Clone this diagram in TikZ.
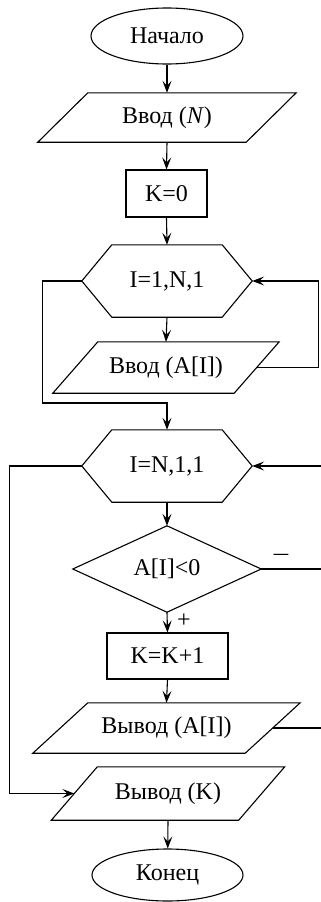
\documentclass[tikz,border=0pt]{standalone}
\usepackage{fontspec}
\setmainfont{Liberation Serif}
\usetikzlibrary{arrows.meta,shapes.geometric}
\tikzset{
  lw/.style={line width=1.1pt},
  arr/.style={lw,-{Stealth[length=12pt,width=9pt,inset=5pt]}},
  blk/.style={draw=none,inner sep=0pt,font=\fontsize{24}{28}\selectfont},
  term/.style={ellipse,draw,lw,inner sep=0pt,font=\fontsize{24}{28}\selectfont},
  lbl/.style={inner sep=0pt,font=\fontsize{24}{28}\selectfont}
}
\newcommand\parashape[2]{\draw[lw] ([xshift=#2/2]#1.north west) -- ([xshift=#2/2]#1.north east) -- ([xshift=-#2/2]#1.south east) -- ([xshift=-#2/2]#1.south west) -- cycle;}
\newcommand\hexshape[2]{\draw[lw] (#1.west) -- ([xshift=#2]#1.north west) -- ([xshift=-#2]#1.north east) -- (#1.east) -- ([xshift=-#2]#1.south east) -- ([xshift=#2]#1.south west) -- cycle;}
\begin{document}
\begin{tikzpicture}[x=1pt,y=-1pt]
\useasboundingbox (0,0) rectangle (321,902);
% nodes
\node[term,minimum width=152pt,minimum height=56pt] (start) at (167,36) {Начало};
\node[blk,minimum width=208pt,minimum height=49pt] (in1) at (167,117.5) {Ввод (\textit{N})};
\node[blk,draw,lw,minimum width=81pt,minimum height=47pt] (k0) at (166.5,193.5) {K=0};
\node[blk,minimum width=170pt,minimum height=72pt] (h1) at (167,281) {I=1,N,1};
\node[blk,minimum width=181pt,minimum height=51pt] (in2) at (166,367.5) {Ввод (A[I])};
\node[blk,minimum width=170pt,minimum height=72pt] (h2) at (167,466) {I=N,1,1};
\node[blk,minimum width=188pt,minimum height=86pt] (dec) at (167,569) {A[I]<0};
\node[blk,draw,lw,minimum width=121pt,minimum height=46pt] (k1) at (167.5,656) {K=K+1};
\node[blk,minimum width=212pt,minimum height=50pt] (out1) at (166.5,728) {Вывод (A[I])};
\node[blk,minimum width=187pt,minimum height=53pt] (out2) at (168,793.5) {Вывод (K)};
\node[term,minimum width=151pt,minimum height=52pt] (end) at (167.5,875) {Конец};
% shapes
\parashape{in1}{50}
\parashape{in2}{45}
\parashape{out1}{55}
\parashape{out2}{46}
\hexshape{h1}{30}
\hexshape{h2}{30}
\draw[lw] (dec.north) -- (dec.east) -- (dec.south) -- (dec.west) -- cycle;
% labels
\node[lbl,xscale=1.2] (minus) at (281,557) {–};
\node[lbl] (plus) at (184,621) {+};
% connectors
\coordinate (j1) at (167,403);
\coordinate (rr) at (323,728);
\draw[arr] (start) -- (in1.north);
\draw[arr] (in1.south) -- (k0.north);
\draw[arr] (k0.south) -- (h1.north);
\draw[arr] (h1.south) -- (in2.north);
\draw[arr] (in2.east) -- ++(62,0) |- (h1.east);
\draw[arr] (h1.west) -- ++(-39,0) |- (j1) -- (h2.north);
\draw[arr] (h2.south) -- (dec.north);
\draw[arr] (dec.south) -- (k1.north);
\draw[arr] (k1.south) -- (out1.north);
\draw[arr] (out1.east) -- (rr) |- (h2.east);
\draw[lw] (dec.east) -- (dec.east -| rr);
\draw[arr] (h2.west) -- ++(-72,0) |- (out2.west);
\draw[arr] (out2.south) -- (end);
\end{tikzpicture}
\end{document}
